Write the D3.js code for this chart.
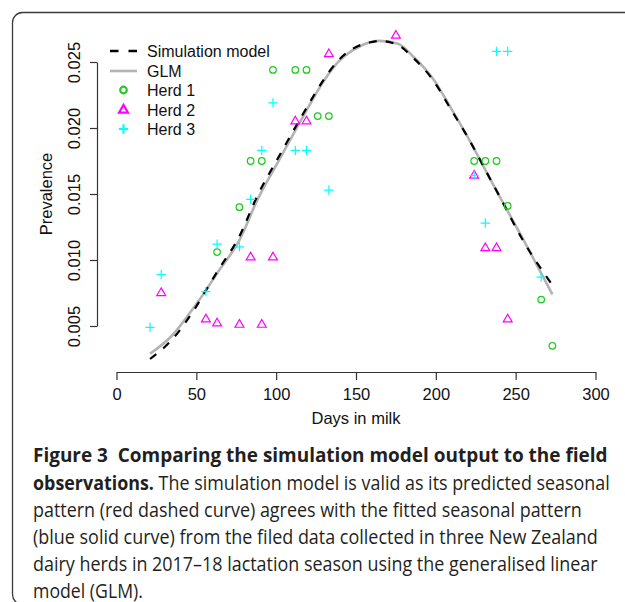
<!DOCTYPE html>
<html>
  <head>
    <meta charset="utf-8">
    <script src="https://cdn.jsdelivr.net/npm/d3@7"></script>
    <style type="text/css">
      body { margin: 0; background: #fff; }
      svg { display: block; }
      .axis path, .axis line { fill: none; stroke: #333; stroke-width: 1.2; }
      .axis text { font-family: "Liberation Sans", Arial, sans-serif; font-size: 16.5px; fill: #111; }
      .lab { font-family: "Liberation Sans", Arial, sans-serif; font-size: 16.5px; fill: #111; }
      .cap { font-family: "Open Sans", sans-serif; font-size: 19.5px; fill: #231f20; white-space: pre; }
    </style>
  </head>
  <body>
    <div class="plot_canvas"></div>
    <script>

    // observations (days in milk, prevalence)
    var herd1Days = [63, 77, 84, 91, 98, 112, 119, 126, 133, 224, 231, 238, 245, 266, 273];
    var herd1Prev = [0.0106, 0.0140, 0.0175, 0.0175, 0.0244, 0.0244, 0.0244, 0.0209, 0.0209, 0.0175, 0.0175, 0.0175, 0.0141, 0.0070, 0.0035];

    var herd2Days = [28, 56, 63, 77, 84, 91, 98, 112, 119, 133, 175, 224, 231, 238, 245];
    var herd2Prev = [0.0075, 0.0055, 0.0052, 0.0051, 0.0102, 0.0051, 0.0102, 0.0205, 0.0205, 0.0256, 0.0270, 0.0164, 0.0109, 0.0109, 0.0055];

    var herd3Days = [21, 28, 56, 63, 77, 84, 91, 98, 112, 119, 133, 224, 231, 238, 245, 266];
    var herd3Prev = [0.0049, 0.0089, 0.0076, 0.0112, 0.0110, 0.0146, 0.0183, 0.0219, 0.0183, 0.0183, 0.0153, 0.0164, 0.0128, 0.0258, 0.0258, 0.0087];

    // fitted curves
    var curveDays = [21, 35, 49, 56, 63, 77, 88, 102, 117, 130, 138, 148, 159, 165, 176, 186, 199, 209, 220, 232, 240, 255, 273];
    var simPrev = [0.0025, 0.0040, 0.0063, 0.0077, 0.0091, 0.0118, 0.0148, 0.0179, 0.0211, 0.0237, 0.0250, 0.0260, 0.0265, 0.0266, 0.0263, 0.0253, 0.0235, 0.0215, 0.0193, 0.0166, 0.0148, 0.0114, 0.0081];
    var glmPrev = [0.0029, 0.0043, 0.0065, 0.0077, 0.0090, 0.0115, 0.0145, 0.0176, 0.0209, 0.0236, 0.0249, 0.0259, 0.0265, 0.0266, 0.0264, 0.0254, 0.0236, 0.0216, 0.0193, 0.0166, 0.0148, 0.0115, 0.0074];

    var xTicks = [0, 50, 100, 150, 200, 250, 300];
    var yTicks = [0.005, 0.010, 0.015, 0.020, 0.025];

    var legendLabels = ["Simulation model", "GLM", "Herd 1", "Herd 2", "Herd 3"];

    var captionLines = [
      [["Figure 3  Comparing the simulation model output to the field", true]],
      [["observations.", true], [" The simulation model is valid as its predicted seasonal", false]],
      [["pattern (red dashed curve) agrees with the fitted seasonal pattern", false]],
      [["(blue solid curve) from the filed data collected in three New Zealand", false]],
      [["dairy herds in 2017\u201318 lactation season using the generalised linear", false]],
      [["model (GLM).", false]]
    ];
    var captionWidths = [575, 577, 549, 565, 565, 110];

    var W = 625, H = 602;

    var xScale = d3.scaleLinear().domain([0, 300]).range([116.5, 595.5]);
    var yScale = d3.scaleLinear().domain([0.005, 0.025]).range([326, 62]);

    var svg = d3.select(".plot_canvas")
      .append("svg")
      .attr("width", W)
      .attr("height", H);

    // frame
    svg.append("rect")
      .attr("x", 12.5).attr("y", 12.5)
      .attr("width", 640).attr("height", 592)
      .attr("rx", 10).attr("ry", 10)
      .attr("fill", "none")
      .attr("stroke", "#3a3a3a")
      .attr("stroke-width", 1.3);

    // axes
    var xAxis = svg.append("g")
      .attr("class", "axis")
      .attr("transform", "translate(0,372)")
      .call(d3.axisBottom(xScale).tickValues(xTicks).tickSize(8).tickPadding(8).tickSizeOuter(0));
    xAxis.selectAll("text").attr("dy", "0.71em");

    var yAxis = svg.append("g")
      .attr("class", "axis")
      .attr("transform", "translate(97,0)")
      .call(d3.axisLeft(yScale).tickValues(yTicks).tickSize(7).tickSizeOuter(0).tickFormat(d3.format(".3f")));
    yAxis.selectAll("text")
      .attr("x", null)
      .attr("text-anchor", "middle")
      .attr("transform", "translate(-23,0) rotate(-90)")
      .attr("dy", "0.35em")
      .attr("y", 0);

    svg.append("text").attr("class", "lab")
      .attr("x", 356).attr("y", 424)
      .attr("text-anchor", "middle")
      .text("Days in milk");

    svg.append("text").attr("class", "lab")
      .attr("transform", "translate(52,194) rotate(-90)")
      .attr("text-anchor", "middle")
      .text("Prevalence");

    // curves
    var line = d3.line()
      .x(function(d) { return xScale(d.day); })
      .y(function(d) { return yScale(d.prev); })
      .curve(d3.curveMonotoneX);

    var glmData = curveDays.map(function(d, i) { return {day: d, prev: glmPrev[i]}; });
    var simData = curveDays.map(function(d, i) { return {day: d, prev: simPrev[i]}; });

    svg.append("path")
      .attr("d", line(glmData))
      .attr("fill", "none")
      .attr("stroke", "#b3b3b3")
      .attr("stroke-width", 2.6);

    svg.append("path")
      .attr("d", line(simData))
      .attr("fill", "none")
      .attr("stroke", "#000")
      .attr("stroke-width", 2.2)
      .attr("stroke-dasharray", "8,9");

    // point symbols, R style
    function circleSym(g, r) {
      g.append("circle").attr("r", r).attr("fill", "none");
    }
    function triSym(g, r) {
      var top = 1.555 * r, half = 1.347 * r, bot = 0.778 * r;
      g.append("path").attr("fill", "none")
        .attr("d", "M0," + (-top) + "L" + half + "," + bot + "L" + (-half) + "," + bot + "Z");
    }
    function plusSym(g, r) {
      var a = 1.414 * r;
      g.append("path").attr("fill", "none")
        .attr("d", "M" + (-a) + ",0H" + a + "M0," + (-a) + "V" + a);
    }

    var herds = [
      {days: herd1Days, prev: herd1Prev, color: "#1ecb1e", sym: circleSym},
      {days: herd2Days, prev: herd2Prev, color: "#ff00ff", sym: triSym},
      {days: herd3Days, prev: herd3Prev, color: "#00ffff", sym: plusSym}
    ];

    herds.forEach(function(h) {
      var pts = h.days.map(function(d, i) { return {day: d, prev: h.prev[i]}; });
      svg.append("g").selectAll("g")
        .data(pts).enter()
        .append("g")
        .attr("transform", function(d) { return "translate(" + xScale(d.day) + "," + yScale(d.prev) + ")"; })
        .attr("stroke", h.color)
        .attr("stroke-width", 1.2)
        .each(function() { h.sym(d3.select(this), 3.3); });
    });

    // legend
    var leg = svg.append("g");
    var legY = [51, 71, 90, 110, 129];
    legendLabels.forEach(function(lbl, i) {
      leg.append("text").attr("class", "lab")
        .attr("x", 147).attr("y", legY[i])
        .attr("dy", "0.35em")
        .style("font-size", "16px")
        .text(lbl);
    });
    leg.append("line")
      .attr("x1", 110).attr("x2", 137).attr("y1", legY[0]).attr("y2", legY[0])
      .attr("stroke", "#000").attr("stroke-width", 2.4).attr("stroke-dasharray", "8.5,10");
    leg.append("line")
      .attr("x1", 110).attr("x2", 137).attr("y1", legY[1]).attr("y2", legY[1])
      .attr("stroke", "#b3b3b3").attr("stroke-width", 2.6);
    herds.forEach(function(h, i) {
      var g = leg.append("g")
        .attr("transform", "translate(123.5," + legY[i + 2] + ")")
        .attr("stroke", h.color)
        .attr("stroke-width", 2.2);
      h.sym(g, 3.3);
    });

    // caption: squeeze each line horizontally to the width it has in the figure
    var capY = [462, 490, 517, 544, 571, 598];
    captionLines.forEach(function(parts, i) {
      var g = svg.append("g");
      var t = g.append("text").attr("class", "cap")
        .attr("x", 0).attr("y", 0);
      parts.forEach(function(p) {
        t.append("tspan")
          .attr("font-weight", p[1] ? "bold" : "normal")
          .text(p[0]);
      });
      var natural = t.node().getComputedTextLength();
      var sx = captionWidths[i] / natural;
      g.attr("transform", "translate(33," + capY[i] + ") scale(" + sx + ",1)");
    });

  </script>
</body>
</html>
